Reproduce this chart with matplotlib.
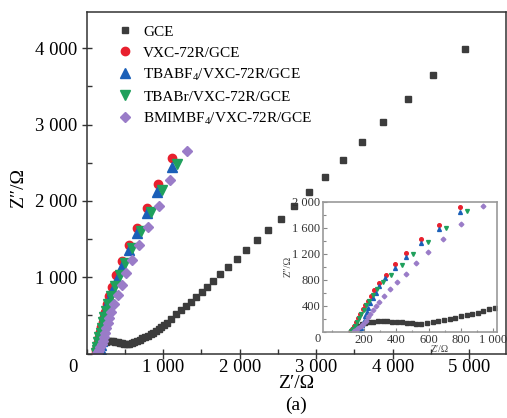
import numpy as np
import matplotlib
matplotlib.use('Agg')
import matplotlib.pyplot as plt
from matplotlib.ticker import MultipleLocator, FixedLocator, FuncFormatter

plt.rcParams['font.family'] = ['Liberation Serif', 'DejaVu Serif']
plt.rcParams['mathtext.fontset'] = 'custom'
plt.rcParams['mathtext.rm'] = 'Liberation Serif'
plt.rcParams['mathtext.it'] = 'Liberation Serif:italic'

# Nyquist data (Z' , Z'')
gce_x = [125, 138, 152, 168, 185, 205, 228, 255, 285, 315, 345, 375, 405, 435, 465, 495,
         525, 555, 590, 625, 660, 695, 730, 765, 800, 835, 870, 905, 940, 975, 1010, 1050,
         1100, 1170, 1230, 1295, 1360, 1426, 1504, 1578, 1656, 1744, 1852, 1962, 2084, 2227,
         2375, 2541, 2707, 2903, 3116, 3352, 3600, 3878, 4197, 4532, 4946]
gce_y = [5, 30, 60, 90, 115, 135, 148, 155, 158, 159, 158, 155, 150, 143, 135, 128,
         124, 126, 135, 150, 166, 183, 200, 217, 235, 254, 274, 295, 320, 345, 370, 400,
         455, 518, 570, 623, 679, 736, 802, 875, 954, 1042, 1138, 1235, 1356, 1488,
         1619, 1763, 1937, 2121, 2317, 2532, 2772, 3038, 3336, 3654, 3991]

vxc_x = [118, 128, 140, 152, 165, 178, 192, 208, 225, 244, 263, 295, 338, 390, 462, 555,
         665, 795, 930, 1120]
vxc_y = [5, 40, 90, 150, 215, 280, 345, 410, 478, 550, 645, 755, 875, 1035, 1212, 1420,
         1645, 1912, 2220, 2562]

tbabf_x = [175, 182, 190, 198, 207, 216, 227, 240, 256, 272, 292, 332, 393, 463, 554,
           663, 794, 924, 1120]
tbabf_y = [5, 50, 110, 170, 235, 300, 370, 440, 520, 600, 700, 823, 975, 1150, 1360,
           1578, 1837, 2120, 2448]

tbabr_x = [120, 130, 142, 155, 168, 182, 197, 214, 232, 255, 280, 318, 370, 433, 505,
           597, 705, 838, 990, 1178]
tbabr_y = [5, 40, 90, 150, 210, 275, 340, 410, 480, 560, 650, 760, 880, 1026, 1190,
           1385, 1600, 1857, 2143, 2483]

bmim_x = [135, 150, 165, 180, 195, 210, 225, 240, 258, 275, 295, 325, 362, 405, 458,
          520, 595, 690, 800, 940, 1090, 1308]
bmim_y = [5, 25, 50, 85, 125, 170, 220, 275, 335, 395, 460, 545, 652, 770, 892,
          1052, 1225, 1425, 1658, 1937, 2268, 2658]

labels = ['GCE', 'VXC-72R/GCE', 'TBABF$_4$/VXC-72R/GCE', 'TBABr/VXC-72R/GCE',
          'BMIMBF$_4$/VXC-72R/GCE']
series = [(gce_x, gce_y), (vxc_x, vxc_y), (tbabf_x, tbabf_y), (tbabr_x, tbabr_y),
          (bmim_x, bmim_y)]
colors = ['#3c3c3c', '#e8202e', '#1a5fb8', '#1fa05c', '#9a7cc8']
markers = ['s', 'o', '^', 'v', 'D']
msizes = [5, 6, 6.5, 6.5, 5]

W, H = 507, 418
fig = plt.figure(figsize=(W / 100, H / 100), dpi=100)

def thousands(v, pos):
    return '{:,.0f}'.format(v).replace(',', ' ')

# main axes
ax = fig.add_axes([86.6 / W, (H - 353.5) / H, (506 - 86.6) / W, (353.5 - 12) / H])
for (x, y), c, m, s, lab in zip(series, colors, markers, msizes, labels):
    ax.plot(x, y, ls='none', marker=m, ms=s, color=c, mec=c, label=lab)
ax.set_xlim(0, 5480)
ax.set_ylim(0, 4475)
ax.xaxis.set_major_locator(FixedLocator([1000, 2000, 3000, 4000, 5000]))
ax.yaxis.set_major_locator(FixedLocator([1000, 2000, 3000, 4000]))
ax.xaxis.set_minor_locator(MultipleLocator(500))
ax.yaxis.set_minor_locator(MultipleLocator(500))
ax.xaxis.set_major_formatter(FuncFormatter(thousands))
ax.yaxis.set_major_formatter(FuncFormatter(thousands))
ax.tick_params(which='major', direction='inout', length=7, width=1, color='#333333',
               labelsize=13.5)
ax.tick_params(which='minor', direction='in', length=3.5, width=1, color='#333333')
ax.tick_params(axis='x', which='major', pad=0.5)
ax.tick_params(axis='y', which='major', pad=3.5)
for sp in ax.spines.values():
    sp.set_color('#333333')
    sp.set_linewidth(1.1)

leg = ax.legend(loc='upper left', bbox_to_anchor=(0.055, 0.98), frameon=False,
                fontsize=11, handlelength=1.2, handletextpad=0.6, labelspacing=0.47,
                borderaxespad=0)

fig.text(72.5 / W, 1 - 367.5 / H, '0', ha='center', va='center', fontsize=13.5)
fig.text(296 / W, 1 - 384 / H, 'Z\u2032/\u03a9', ha='center', va='center', fontsize=14)
fig.text(296 / W, 1 - 405 / H, '(a)', ha='center', va='center', fontsize=14)
fig.text(19 / W, 1 - 188 / H, 'Z\u2033/\u03a9', ha='center', va='center', fontsize=14,
         rotation=90)

# inset
axi = fig.add_axes([322.7 / W, (H - 331.7) / H, (496.7 - 322.7) / W, (331.7 - 201.7) / H])
inset_ms = [2.2, 2.6, 2.8, 2.8, 2.4]
for (x, y), c, m, s in zip(series, colors, markers, inset_ms):
    axi.plot(x, y, ls='none', marker=m, ms=s, color=c, mec=c)
axi.set_xlim(-56, 1022)
axi.set_ylim(0, 2000)
axi.xaxis.set_major_locator(FixedLocator([200, 400, 600, 800, 1000]))
axi.yaxis.set_major_locator(FixedLocator([400, 800, 1200, 1600, 2000]))
axi.xaxis.set_minor_locator(MultipleLocator(100))
axi.yaxis.set_minor_locator(MultipleLocator(200))
axi.xaxis.set_major_formatter(FuncFormatter(thousands))
axi.yaxis.set_major_formatter(FuncFormatter(thousands))
axi.tick_params(which='major', direction='in', length=3, width=0.8, color='#888888',
                labelsize=9, labelcolor='#333333', pad=1.5)
axi.tick_params(which='minor', direction='in', length=1.8, width=0.8, color='#888888')
for sp in axi.spines.values():
    sp.set_color('#999999')
    sp.set_linewidth(1.2)
fig.text(318 / W, 1 - 339 / H, '0', ha='center', va='center', fontsize=9, color='#333333')
fig.text(440 / W, 1 - 349.5 / H, 'Z\u2032/\u03a9', ha='center', va='center', fontsize=7,
         color='#444444')
fig.text(288 / W, 1 - 266 / H, 'Z\u2033/\u03a9', ha='center', va='center', fontsize=7.5,
         rotation=90, color='#444444')

fig.savefig('out.png', dpi=100)
